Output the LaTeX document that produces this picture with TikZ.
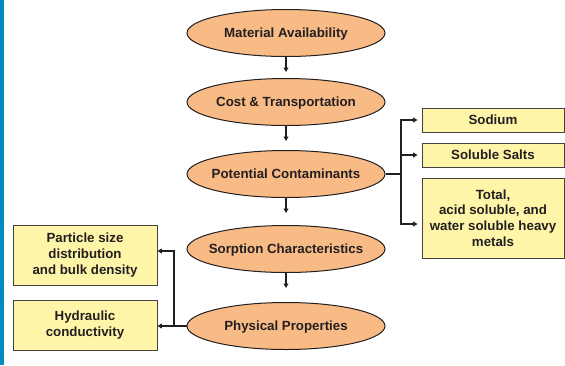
\documentclass[tikz,border=0pt]{standalone}
\usepackage{fontspec}
\setmainfont{Liberation Sans}
\usetikzlibrary{shapes.geometric,arrows.meta}
\definecolor{peach}{HTML}{F9BB86}
\definecolor{pale}{HTML}{FFF5A8}
\definecolor{ink}{HTML}{231F20}
\definecolor{barblue}{HTML}{008CBE}
\begin{document}
\begin{tikzpicture}[x=1pt,y=-1pt,
  oval/.style={ellipse, draw=ink, line width=1pt, fill=peach,
    minimum width=198pt, minimum height=47pt, inner sep=0pt,
    text height=9.5pt, text depth=0pt,
    font=\fontsize{13.3}{15.7}\selectfont\bfseries, text=ink},
  infobox/.style={rectangle, draw=ink!85, line width=0.8pt, fill=pale,
    inner sep=0pt, align=center,
    font=\fontsize{13.3}{15.7}\selectfont\bfseries, text=ink},
  conn/.style={draw=ink, line width=1.4pt},
  arr/.style={conn, -{Triangle[length=4.5pt,width=4.8pt]}}]
\useasboundingbox (0,0) rectangle (565,365);
\fill[barblue] (0,0) rectangle (4,365);

\node[oval] (ma) at (286,33) {\makebox[0pt]{Material Availability}};
\node[oval] (ct) at (286,102) {\makebox[0pt]{Cost \& Transportation}};
\node[oval] (pc) at (286,174) {\makebox[0pt]{Potential Contaminants}};
\node[oval] (sc) at (286,249) {\makebox[0pt]{Sorption Characteristics}};
\node[oval] (pp) at (286,326) {\makebox[0pt]{Physical Properties}};

\node[infobox, minimum width=142pt, minimum height=24pt] (sod) at (493,120) {Sodium};
\node[infobox, minimum width=142pt, minimum height=24pt] (sal) at (493,155) {Soluble Salts};
\node[infobox, minimum width=142pt, minimum height=80pt] (tot) at (493,218) {Total,\\acid soluble, and\\water soluble heavy\\metals};

\node[infobox, minimum width=144pt, minimum height=60pt] (part) at (85,255) {Particle size\\distribution\\and bulk density};
\node[infobox, minimum width=144pt, minimum height=50pt] (hyd) at (85,325) {Hydraulic\\conductivity};

\draw[arr] (ma.south) -- ++(0,15);
\draw[arr] (ct.south) -- ++(0,15);
\draw[arr] (pc.south) -- ++(0,15);
\draw[arr] (sc.south) -- ++(0,15);

\coordinate (rj1) at (401,120);
\coordinate (rj2) at (401,224);
\draw[conn] (pc.east) -- (pc.east -| rj1);
\draw[conn, line cap=rect] (rj1) -- (rj2);
\draw[arr, shorten >=4pt] (rj1) -- (sod.west);
\draw[arr, shorten >=4pt] (rj1 |- sal.west) -- (sal.west);
\draw[arr, shorten >=4pt] (rj2) -- (rj2 -| tot.west);

\coordinate (lj1) at (174,251);
\coordinate (lj2) at (174,326);
\draw[conn] (pp.west) -- (lj2);
\draw[conn, line cap=rect] (lj1) -- (lj2);
\draw[arr] (lj1) -- (lj1 -| part.east);
\draw[arr] (lj2) -- (lj2 -| hyd.east);
\end{tikzpicture}
\end{document}
